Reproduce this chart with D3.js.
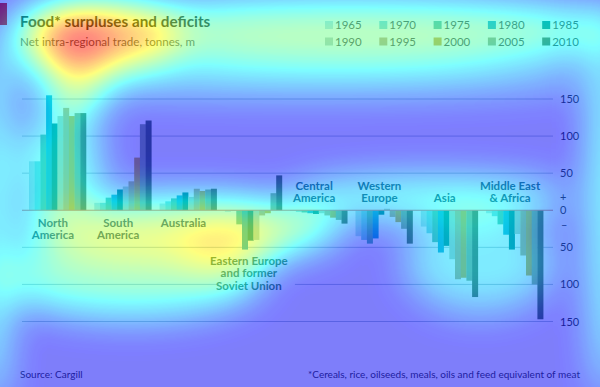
<!DOCTYPE html>
<html>
<head>
<meta charset="utf-8">
<script src="https://cdn.jsdelivr.net/npm/d3@7"></script>
<style>
 body { margin: 0; background: #fff; }
 svg { display: block; font-family: Lato, "Open Sans", sans-serif; }
</style>
</head>
<body>
<svg width="600" height="387"></svg>
<script>
// Data (tonnes, m; minus = deficit)

var regions = ['North America', 'South America', 'Australia', 'Eastern Europe', 'Central America', 'Western Europe', 'Asia', 'Middle East & Africa'];
var years = ['1965', '1970', '1975', '1980', '1985', '1990', '1995', '2000', '2005', '2010'];

var northAmerica   = [66, 66, 102, 155, 117, 127, 138, 127, 131, 131];
var southAmerica   = [10, 10, 17, 21, 28, 32, 39, 71, 116, 121];
var australia      = [9, 12, 16, 20, 24, 18, 29, 26, 28, 29];
var easternEurope  = [-2, -1, -19, -53, -41, -40, -7, -4, 23, 47];
var centralAmerica = [-1, -2, -3, -4, -5, -4, -7, -10, -13, -18];
var westernEurope  = [-35, -40, -45, -38, -6, 2, -9, -16, -25, -45];
var asia           = [-22, -31, -43, -57, -48, -66, -93, -91, -95, -117];
var middleEast     = [-4, -8, -19, -33, -53, -32, -61, -88, -100, -147];

var yTicks = [150, 100, 50, 0, -50, -100, -150];

// labels under / over each group, one entry per line
var regionLabels = [['North', 'America'], ['South', 'America'], ['Australia'], ['Eastern Europe', 'and former', 'Soviet Union'],
 ['Central', 'America'], ['Western', 'Europe'], ['Asia'], ['Middle East', '& Africa']];

var colors = ['#b9dde6', '#80d2db', '#5cb7a6', '#1aa6cf', '#00838c', '#b7cbc2', '#b9a983', '#cba63c', '#8fa68a', '#4e6a52'];

var table = regions.map(function(r, i) {
 return {region: r, label: regionLabels[i], values: [northAmerica, southAmerica, australia, easternEurope, centralAmerica, westernEurope, asia, middleEast][i]};
});

// Eye-tracking overlay painted on the picture (fixation spots, weight 0..1)
var fixations = [
 {x: 78, y: 42, rx: 34, ry: 24, w: 1},
 {x: 76, y: 43, rx: 16, ry: 12, w: 1},
 {x: 95, y: 35, rx: 85, ry: 35, w: 0.6},
 {x: 350, y: 30, rx: 280, ry: 30, w: 0.45},
 {x: 300, y: 75, rx: 300, ry: 18, w: 0.25},
 {x: 75, y: 95, rx: 30, ry: 22, w: 0.5},
 {x: 60, y: 165, rx: 40, ry: 50, w: 0.35},
 {x: 180, y: 228, rx: 160, ry: 30, w: 0.5},
 {x: 230, y: 245, rx: 50, ry: 30, w: 0.3},
 {x: 130, y: 278, rx: 130, ry: 38, w: 0.38},
 {x: 430, y: 198, rx: 140, ry: 18, w: 0.4},
 {x: 480, y: 262, rx: 75, ry: 50, w: 0.25},
 {x: -8, y: 220, rx: 10, ry: 190, w: 0.6},
 {x: 608, y: 200, rx: 10, ry: 200, w: 0.6}
];

var svg = d3.select('svg');

var x0 = d3.scaleBand().domain(regions).range([24.8, 547.3]).paddingInner(0.127).paddingOuter(0.064);
var x1 = d3.scaleBand().domain(years).range([0, x0.bandwidth()]);
var y = d3.scaleLinear().domain([-150, 150]).range([321.5, 99]);
var z = d3.scaleOrdinal().domain(years).range(colors);

// Grid

svg.append('g')
 .selectAll('line')
 .data(yTicks.filter(function(d) { return d !== 0; }))
 .enter().append('line')
 .attr('x1', 22).attr('x2', 553)
 .attr('y1', function(d) { return y(d); }).attr('y2', function(d) { return y(d); })
 .attr('stroke', '#b5c6d2').attr('stroke-width', 1);

// Bars

svg.append('g')
 .selectAll('g')
 .data(table)
 .enter().append('g')
 .attr('transform', function(d) { return 'translate(' + x0(d.region) + ',0)'; })
 .selectAll('rect')
 .data(function(d) { return d.values.map(function(v, i) { return {year: years[i], value: v}; }); })
 .enter().append('rect')
 .attr('x', function(d) { return x1(d.year); })
 .attr('width', x1.bandwidth() + 0.3)
 .attr('y', function(d) { return y(Math.max(0, d.value)); })
 .attr('height', function(d) { return Math.abs(y(d.value) - y(0)); })
 .attr('fill', function(d) { return z(d.year); });

svg.append('line')
 .attr('x1', 22).attr('x2', 553)
 .attr('y1', y(0)).attr('y2', y(0))
 .attr('stroke', '#d77373').attr('stroke-width', 1);

// Right axis

var axis = svg.append('g')
 .attr('transform', 'translate(556,0)')
 .call(d3.axisRight(y).tickValues(yTicks).tickSize(0).tickPadding(4)
 .tickFormat(function(d) { return Math.abs(d); }));
axis.select('.domain').remove();
axis.selectAll('text').attr('font-size', 11).attr('fill', '#333').attr('font-family', 'Lato, sans-serif');

svg.append('text').attr('x', 560).attr('y', y(18)).attr('dy', '0.35em').attr('font-size', 11).attr('fill', '#333').text('+');
svg.append('text').attr('x', 561).attr('y', y(-20)).attr('dy', '0.35em').attr('font-size', 11).attr('fill', '#333').text('\u2013');

// Region labels

// white gap in the gridline behind the Eastern Europe label
svg.append('rect')
 .attr('x', x0('Eastern Europe') - 6).attr('y', y(-100) - 3)
 .attr('width', 76).attr('height', 6).attr('fill', '#fff');

var labelTop = {'North America': 227, 'South America': 227, 'Australia': 227, 'Eastern Europe': 265,
 'Central America': 190, 'Western Europe': 190, 'Asia': 202, 'Middle East & Africa': 190};

var labels = svg.append('g')
 .selectAll('text')
 .data(table)
 .enter().append('text')
 .attr('text-anchor', 'middle')
 .attr('font-size', 11.5).attr('font-weight', 'bold').attr('fill', '#23506f')
 .attr('transform', function(d) { return 'translate(' + (x0(d.region) + x0.bandwidth() * 0.42) + ',' + labelTop[d.region] + ')'; });

labels.each(function(d) {
 var t = d3.select(this);
 if (d.region === 'Eastern Europe') {
  t.attr('fill', '#3d6b4f');
 }
 d.label.forEach(function(line, i) {
  t.append('tspan').attr('x', 0).attr('y', i * 12.3).text(line);
 });
});

// Title, legend, footer

svg.append('rect').attr('x', 0).attr('y', 3).attr('width', 7).attr('height', 22).attr('fill', '#e3120b');

svg.append('text').attr('x', 20).attr('y', 27)
 .attr('font-size', 15.3).attr('font-weight', 'bold').attr('fill', '#1a1a1a')
 .text('Food* surpluses and deficits');
svg.append('text').attr('x', 20).attr('y', 46)
 .attr('font-size', 11.6).attr('fill', '#555')
 .text('Net intra-regional trade, tonnes, m');

var legend = svg.append('g')
 .selectAll('g')
 .data(years)
 .enter().append('g')
 .attr('transform', function(d, i) { return 'translate(' + (325 + (i % 5) * 54.3) + ',' + (21 + Math.floor(i / 5) * 16.5) + ')'; });

legend.append('rect').attr('width', 8).attr('height', 8).attr('fill', z);
legend.append('text').attr('x', 10).attr('y', 4).attr('dy', '0.36em')
 .attr('font-size', 11.5).attr('fill', '#444')
 .text(function(d) { return d; });

svg.append('text').attr('x', 20).attr('y', 378)
 .attr('font-size', 10).attr('fill', '#444')
 .text('Source: Cargill');
svg.append('text').attr('x', 580).attr('y', 378).attr('text-anchor', 'end')
 .attr('font-size', 10).attr('fill', '#444')
 .text('*Cereals, rice, oilseeds, meals, oils and feed equivalent of meat');

// Heat overlay

var defs = svg.append('defs');
defs.append('filter').attr('id', 'blur')
 .attr('filterUnits', 'userSpaceOnUse').attr('x', -50).attr('y', -50).attr('width', 700).attr('height', 490)
 .append('feGaussianBlur').attr('stdDeviation', 20);

var jet = defs.append('filter').attr('id', 'jet')
 .attr('filterUnits', 'userSpaceOnUse').attr('x', 0).attr('y', 0).attr('width', 600).attr('height', 387)
 .attr('color-interpolation-filters', 'sRGB')
 .append('feComponentTransfer');
jet.append('feFuncR').attr('type', 'table').attr('tableValues', '0 0 0 0 0.5 1 1 1 0.5');
jet.append('feFuncG').attr('type', 'table').attr('tableValues', '0 0 0.5 1 1 1 0.5 0 0');
jet.append('feFuncB').attr('type', 'table').attr('tableValues', '0.5 1 1 1 0.5 0 0 0 0');

var heat = svg.append('g').attr('filter', 'url(#jet)').attr('opacity', 0.5);
heat.append('rect').attr('width', 600).attr('height', 387).attr('fill', 'rgb(30,30,30)');
heat.append('g').attr('filter', 'url(#blur)')
 .selectAll('ellipse')
 .data(fixations)
 .enter().append('ellipse')
 .attr('cx', function(d) { return d.x; }).attr('cy', function(d) { return d.y; })
 .attr('rx', function(d) { return d.rx; }).attr('ry', function(d) { return d.ry; })
 .attr('fill', '#fff').attr('fill-opacity', function(d) { return d.w; });
</script>
</body>
</html>
